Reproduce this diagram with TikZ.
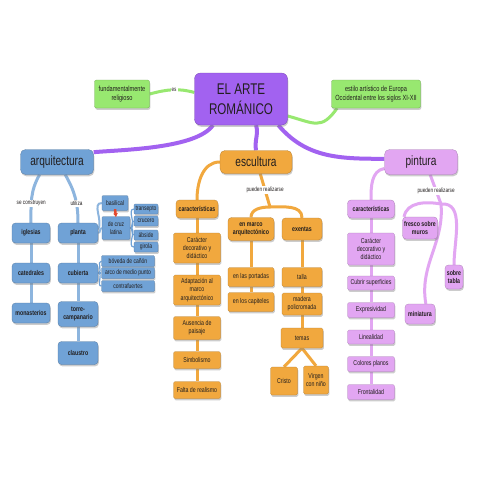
\documentclass[tikz,border=0pt]{standalone}
\usepackage{fontspec}
\setmainfont{Liberation Sans}[FakeStretch=0.75]
\usepackage{tikz}
\definecolor{titlepurple}{RGB}{162, 98, 240}
\definecolor{notegreen}{RGB}{152, 232, 112}
\definecolor{archblue}{RGB}{112, 162, 214}
\definecolor{sculptorange}{RGB}{241, 168, 62}
\definecolor{paintpink}{RGB}{226, 166, 242}
\definecolor{textdark}{RGB}{34, 30, 30}
\definecolor{arrowred}{RGB}{228, 72, 44}
\usetikzlibrary{shadows, backgrounds, arrows.meta}

\begin{document}
\begin{tikzpicture}[x=1pt, y=1pt, >=latex,
				box/.style={fill=#1, draw=#1!75!black, line width=0.3pt, text=textdark, align=center, inner sep=1pt,
					drop shadow={opacity=0.4, shadow xshift=0.8pt, shadow yshift=-1.8pt}},
				titlebox/.style={box=titlepurple, rounded corners=6pt, font=\fontsize{15.5}{19.5}\selectfont},
				note/.style={box=notegreen, rounded corners=2pt, font=\fontsize{7.5}{9}\selectfont},
				topic/.style={box=#1, rounded corners=5pt, font=\fontsize{13.5}{15}\selectfont},
				conceptbox/.style={box=#1, rounded corners=3.5pt, font=\bfseries\fontsize{7}{8.2}\selectfont},
				itembox/.style={box=#1, rounded corners=1.5pt, font=\fontsize{7}{8.2}\selectfont},
				subbox/.style={box=#1, rounded corners=1pt, inner sep=0pt, font=\fontsize{6.7}{7.5}\selectfont},
				linklabel/.style={fill=white, inner sep=1pt, text=textdark, font=\fontsize{6.2}{7}\selectfont},
				branch/.style={draw=#1, line width=3pt},
				twig/.style={draw=#1, line width=1.2pt}]
				\useasboundingbox (0,0) rectangle (480,-480);
				% Titel und Notizen
				\node[titlebox, minimum width=93pt, minimum height=52pt] (romanico) at (241,-99) {EL ARTE\\ROMÁNICO};
				\node[note, minimum width=55pt, minimum height=28pt] (religioso) at (122,-94) {fundamentalmente\\religioso};
				\node[note, minimum width=89pt, minimum height=28pt] (estilo) at (376,-94) {estilo artístico de Europa\\Occidental entre los siglos XI-XII};
				% Hauptthemen
				\node[topic=archblue, minimum width=73pt, minimum height=25pt] (arquitectura) at (57,-162) {arquitectura};
				\node[topic=sculptorange, minimum width=72pt, minimum height=23pt] (escultura) at (256,-162) {escultura};
				\node[topic=paintpink, minimum width=73pt, minimum height=25pt] (pintura) at (421,-162) {pintura};
				% Arquitectura
				\node[conceptbox=archblue, minimum width=38pt, minimum height=20pt] (iglesias) at (31,-233) {iglesias};
				\node[conceptbox=archblue, minimum width=38pt, minimum height=20pt] (catedrales) at (31,-273) {catedrales};
				\node[conceptbox=archblue, minimum width=38pt, minimum height=20pt] (monasterios) at (31,-313) {monasterios};
				\node[conceptbox=archblue, minimum width=40pt, minimum height=20pt] (planta) at (78,-233) {planta};
				\node[conceptbox=archblue, minimum width=40pt, minimum height=20pt] (cubierta) at (78,-273) {cubierta};
				\node[conceptbox=archblue, minimum width=40pt, minimum height=25pt] (torre) at (78,-314) {torre-\\campanario};
				\node[conceptbox=archblue, minimum width=40pt, minimum height=23pt] (claustro) at (78,-353) {claustro};
				\node[subbox=archblue, minimum width=26pt, minimum height=15pt] (basilical) at (115,-203) {basilical};
				\node[subbox=archblue, minimum width=28pt, minimum height=23pt] (cruz) at (116,-228) {de cruz\\latina};
				\node[subbox=archblue, minimum width=24pt, minimum height=10pt] (transepto) at (146,-209) {transepto};
				\node[subbox=archblue, minimum width=24pt, minimum height=10pt] (crucero) at (146,-221) {crucero};
				\node[subbox=archblue, minimum width=24pt, minimum height=10pt] (abside) at (146,-235) {ábside};
				\node[subbox=archblue, minimum width=24pt, minimum height=10pt] (girola) at (146,-247) {girola};
				\node[subbox=archblue, minimum width=53pt, minimum height=11pt] (boveda) at (128,-261) {bóveda de cañón};
				\node[subbox=archblue, minimum width=53pt, minimum height=11pt] (arco) at (128,-273) {arco de medio punto};
				\node[subbox=archblue, minimum width=53pt, minimum height=11pt] (contrafuertes) at (128,-286) {contrafuertes};
				% Escultura
				\node[conceptbox=sculptorange, minimum width=42pt, minimum height=18pt] (escCarac) at (197,-209) {características};
				\node[conceptbox=sculptorange, minimum width=46pt, minimum height=23pt] (marco) at (251,-229) {en marco\\arquitectónico};
				\node[conceptbox=sculptorange, minimum width=40pt, minimum height=22pt] (exentas) at (302,-229) {exentas};
				\foreach \n/\y/\h/\txt in {escC1/-248/30/{Carácter\\decorativo y\\didáctico}, escC2/-290/30/{Adaptación al\\marco\\arquitectónico},
						escC3/-328/23/{Ausencia de\\paisaje}, escC4/-360/17/Simbolismo, escC5/-390/17/{Falta de realismo}}
					\node[itembox=sculptorange, minimum width=47pt, minimum height=\h pt] (\n) at (197,\y) {\txt};
				\node[itembox=sculptorange, minimum width=46pt, minimum height=19pt] (portadas) at (251,-277) {en las portadas};
				\node[itembox=sculptorange, minimum width=46pt, minimum height=19pt] (capiteles) at (251,-302) {en los capiteles};
				\node[itembox=sculptorange, minimum width=40pt, minimum height=19pt] (talla) at (302,-277) {talla};
				\node[itembox=sculptorange, minimum width=40pt, minimum height=22pt] (madera) at (302,-304) {madera\\policromada};
				\node[itembox=sculptorange, minimum width=42pt, minimum height=20pt] (temas) at (302,-338) {temas};
				\node[itembox=sculptorange, minimum width=27pt, minimum height=28pt] (cristo) at (284,-381) {Cristo};
				\node[itembox=sculptorange, minimum width=25pt, minimum height=28pt] (virgen) at (316,-380) {Virgen\\con niño};
				% Pintura
				\node[conceptbox=paintpink, minimum width=47pt, minimum height=18pt] (pinCarac) at (371,-209) {características};
				\foreach \n/\y/\h/\txt in {pinC1/-249/32/{Carácter\\decorativo y\\didáctico}, pinC2/-283/14/{Cubrir superficies},
						pinC3/-310/15/Expresividad, pinC4/-337/14/Linealidad, pinC5/-364/15/{Colores planos}, pinC6/-392/15/Frontalidad}
					\node[itembox=paintpink, minimum width=47pt, minimum height=\h pt] (\n) at (371,\y) {\txt};
				\node[conceptbox=paintpink, minimum width=35pt, minimum height=22pt] (fresco) at (420,-228) {fresco sobre\\muros};
				\node[conceptbox=paintpink, minimum width=18pt, minimum height=24pt] (tabla) at (454,-277) {sobre\\tabla};
				\node[conceptbox=paintpink, minimum width=30pt, minimum height=20pt] (miniatura) at (420,-314) {miniatura};
				% roter Pfeil
				\draw[-{Latex[length=4pt, width=5pt]}, line width=2.5pt, arrowred] ([yshift=1.5pt]basilical.south) -- ([yshift=-1pt]cruz.north);
				% Verbindungen zeichnen
				\begin{scope}[on background layer]
					\fill[white] (0,0) rectangle (480,-480);
					\draw[branch=titlepurple, line width=4pt] (romanico.223) to[out=235, in=5, looseness=0.6] (arquitectura.15);
					\draw[branch=titlepurple, line width=4pt] (romanico.300) to[out=-75, in=100] (escultura.north);
					\draw[branch=titlepurple, line width=4pt] (romanico.325) to[out=-50, in=180] (pintura.175);
					\draw[branch=notegreen] (romanico.172) to[out=165, in=15] node[linklabel, pos=0.45] (es) {es} (religioso.east);
					\draw[branch=notegreen] (romanico.-20) to[out=-15, in=235, looseness=1.4] (estilo.200);
					% Arquitectura
					\draw[branch=archblue!80!white] (arquitectura.216) to[out=240, in=90] node[linklabel, pos=0.62] (construyen) {se construyen} (iglesias.north);
					\draw[branch=archblue!80!white] (arquitectura.303) to[out=-60, in=90] node[linklabel, pos=0.62] (utiliza) {utiliza} (planta.north);
					\foreach \a/\b in {iglesias/catedrales, catedrales/monasterios, planta/cubierta, cubierta/torre, torre/claustro}
						\draw[branch=archblue!80!white] (\a) -- (\b);
					\draw[twig=archblue!80!white, line width=2pt] (planta.10) to[out=60, in=180] (basilical.west);
					\draw[twig=archblue!80!white, line width=2pt] (planta.east) to[out=0, in=180] (cruz.west);
					\foreach \t in {transepto, crucero, abside, girola}
						\draw[twig=archblue] (cruz.east) to[out=0, in=180] (\t.west);
					\foreach \t in {boveda, arco, contrafuertes}
						\draw[twig=archblue] (cubierta.east) to[out=0, in=180] (\t.west);
					% Escultura
					\coordinate (forkE) at (270,-207);
					\draw[branch=sculptorange] (escultura.west) to[out=180, in=90] (escCarac.north);
					\draw[branch=sculptorange] (escultura.290) -- node[linklabel] (realizarseE) {pueden realizarse} (forkE);
					\draw[branch=sculptorange] (forkE) to[out=180, in=90] (marco.north);
					\draw[branch=sculptorange] (forkE) to[out=0, in=90] (exentas.north);
					\foreach \a/\b in {escCarac/escC1, escC1/escC2, escC2/escC3, escC3/escC4, escC4/escC5, marco/portadas, portadas/capiteles,
							exentas/talla, talla/madera, madera/temas}
						\draw[branch=sculptorange] (\a) -- (\b);
					\draw[branch=sculptorange] (temas.south) -- (cristo.north);
					\draw[branch=sculptorange] (temas.south) -- (virgen.north);
					% Pintura
					\coordinate (forkP) at (441,-204);
					\draw[branch=paintpink] (pintura.190) to[out=190, in=90] (pinCarac.north);
					\draw[branch=paintpink] (pintura.306) -- node[linklabel, pos=0.55] (realizarseP) {pueden realizarse} (forkP);
					\draw[branch=paintpink] (forkP) to[out=170, in=80] (fresco.145);
					\draw[branch=paintpink] (forkP) to[out=5, in=90] (tabla.north);
					\draw[branch=paintpink] (forkP) to[out=-85, in=100] (miniatura.60);
					\foreach \a/\b in {pinCarac/pinC1, pinC1/pinC2, pinC2/pinC3, pinC3/pinC4, pinC4/pinC5, pinC5/pinC6}
						\draw[branch=paintpink] (\a) -- (\b);
				\end{scope}
			\end{tikzpicture}
\end{document}
